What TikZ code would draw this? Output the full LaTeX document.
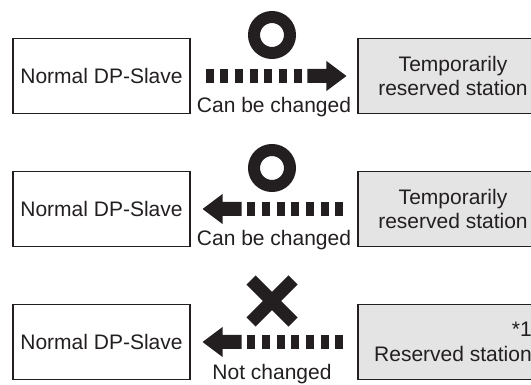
\documentclass[tikz,border=0pt]{standalone}
\usepackage{fontspec}
\setmainfont{Liberation Sans}
\definecolor{ink}{HTML}{231F20}
\definecolor{boxgray}{HTML}{E4E4E4}
\begin{document}
\begin{tikzpicture}[x=1pt, y=-1pt,
  every node/.style={font=\fontsize{21}{24.5}\selectfont, text=ink},
  slavebox/.style={draw=ink, line width=1.1pt, minimum width=177pt, minimum height=75pt, inner sep=0pt},
  resbox/.style={slavebox, fill=boxgray, minimum width=190pt, align=center},
  dashbar/.style={ink, line width=14pt, dash pattern=on 8pt off 6.7pt},
  okring/.style={circle, draw=ink, line width=12pt, minimum size=36pt, inner sep=0pt},
  ngbar/.style={ink, line width=13pt}]
  \useasboundingbox (0,0) rectangle (531,385);
  \clip (0,0) rectangle (531,385);
  % Row 1: slave -> temporarily reserved
  \node[slavebox] (sl1) at (101.5,76) {Normal DP-Slave};
  \node[resbox] (rs1) at (453,76) {Temporarily\\reserved station};
  \node[okring] (ok1) at (272,35) {};
  \coordinate (t1) at ([xshift=-11pt]rs1.west);
  \draw[dashbar] ([xshift=15pt]sl1.east) -- ++(96.2,0);
  \fill[ink] (t1) -- ++(-20,-15) -- ++(0,8) -- ++(-19,0) -- ++(0,14) -- ++(19,0) -- ++(0,8) -- cycle;
  \node[anchor=base] (cb1) at (274,113) {Can be changed};
  % Row 2: temporarily reserved -> slave
  \node[slavebox] (sl2) at (101.5,209) {Normal DP-Slave};
  \node[resbox] (rs2) at (453,209) {Temporarily\\reserved station};
  \node[okring] (ok2) at (272,168) {};
  \coordinate (t2) at ([xshift=12pt]sl2.east);
  \draw[dashbar] ([xshift=-14pt]rs2.west) -- ++(-96.2,0);
  \fill[ink] (t2) -- ++(20,-15) -- ++(0,8) -- ++(19,0) -- ++(0,14) -- ++(-19,0) -- ++(0,8) -- cycle;
  \node[anchor=base] (cb2) at (274,246) {Can be changed};
  % Row 3: reserved -> slave, not possible
  \node[slavebox] (sl3) at (101.5,342) {Normal DP-Slave};
  \node[resbox, align=right] (rs3) at (453,342) {*1\\Reserved station};
  \coordinate (ng) at (272,301);
  \draw[ngbar] ([shift={(-21,-21)}]ng) -- ++(42,42) ([shift={(-21,21)}]ng) -- ++(42,-42);
  \coordinate (t3) at ([xshift=12pt]sl3.east);
  \draw[dashbar] ([xshift=-14pt]rs3.west) -- ++(-96.2,0);
  \fill[ink] (t3) -- ++(20,-15) -- ++(0,8) -- ++(19,0) -- ++(0,14) -- ++(-19,0) -- ++(0,8) -- cycle;
  \node[anchor=base] (nc3) at (272,379) {Not changed};
\end{tikzpicture}
\end{document}
